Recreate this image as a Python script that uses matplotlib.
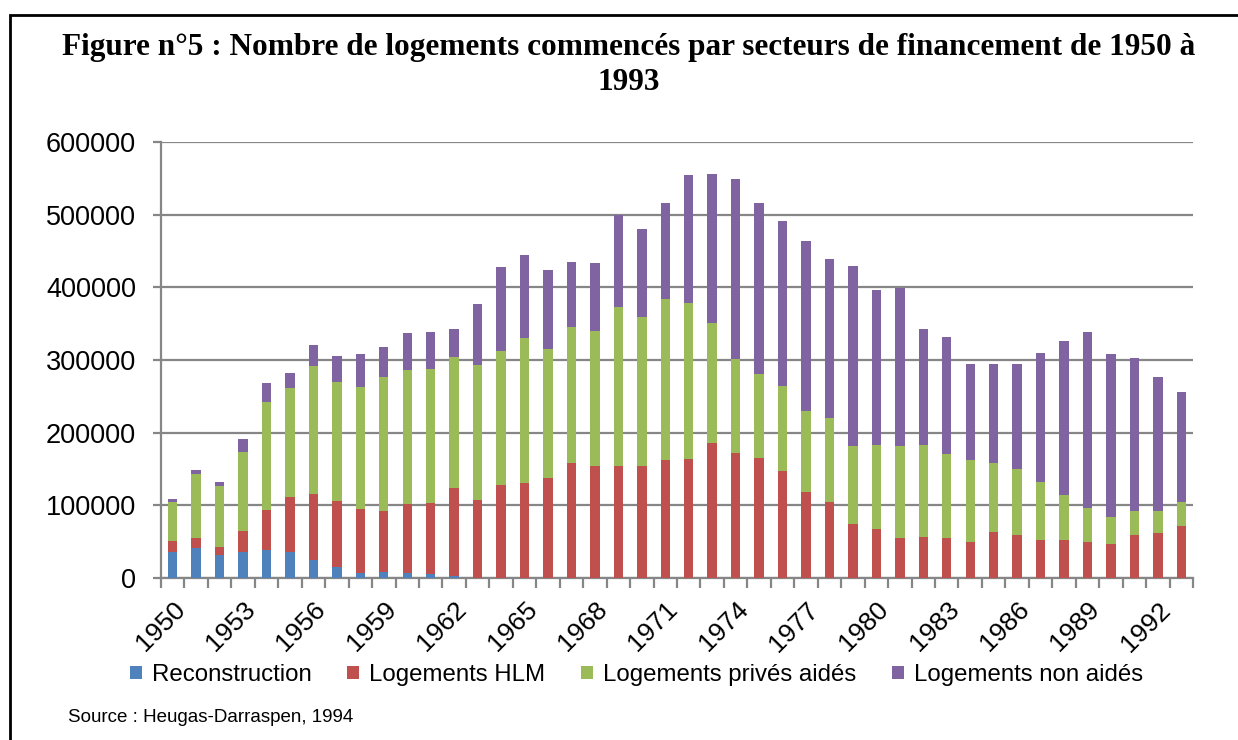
import numpy as np
import matplotlib.pyplot as plt
from matplotlib.patches import Rectangle

# Données (nombre de logements commencés)
annees = list(range(1950, 1994))

reconstruction = [36000, 41700, 31700, 35300, 38100, 35300, 25200, 14700, 7300, 8700,
                  6900, 5000, 3200, 0, 0, 0, 0, 0, 0, 0,
                  0, 0, 0, 0, 0, 0, 0, 0, 0, 0,
                  0, 0, 0, 0, 0, 0, 0, 0, 0, 0,
                  0, 0, 0, 0]

hlm = [14500, 12900, 11400, 29800, 55900, 76200, 89900, 90800, 87700, 84000,
       94900, 98200, 120700, 107300, 128000, 131200, 137600, 158300, 154100, 154600,
       154600, 162800, 164200, 186200, 172000, 165100, 147200, 118300, 104100, 74300,
       67400, 55000, 56400, 55000, 49500, 63800, 59200, 52800, 52800, 49100,
       46800, 59200, 61900, 72000]

prives_aides = [54100, 88100, 83000, 107800, 148700, 150000, 176200, 164700, 167400, 183400,
                184400, 184000, 179800, 186300, 184800, 198600, 177100, 186700, 185300, 217900,
                204100, 220700, 214700, 164700, 128900, 115200, 116600, 111100, 116100, 106900,
                116100, 126200, 127100, 115600, 112900, 94000, 90300, 78900, 61000, 47200,
                37600, 33500, 30800, 32600]

non_aides = [3700, 6400, 6000, 17900, 25600, 20200, 29300, 34800, 46300, 41300,
             51000, 51300, 39400, 83500, 115600, 114700, 109600, 89900, 94100, 126600,
             122000, 132600, 176100, 204600, 247700, 235300, 227900, 234800, 219200, 248200,
             212800, 217900, 159600, 161100, 131600, 137200, 145500, 177900, 212300, 242200,
             224300, 209600, 183400, 150900]

series = [
    ("Reconstruction", reconstruction, "#4F81BD"),
    ("Logements HLM", hlm, "#C0504D"),
    ("Logements privés aidés", prives_aides, "#9BBB59"),
    ("Logements non aidés", non_aides, "#8064A2"),
]

plt.rcParams['font.family'] = ['Liberation Sans', 'DejaVu Sans']

fig = plt.figure(figsize=(12.38, 7.4), dpi=100)
ax = fig.add_axes([0.1300, 0.2189, 0.8337, 0.5892])

x = np.arange(len(annees))
bas = np.zeros(len(annees))
for nom, valeurs, couleur in series:
    v = np.array(valeurs, dtype=float)
    ax.bar(x, v, bottom=bas, width=0.4, color=couleur, label=nom, zorder=3)
    bas += v

# Axes façon Excel
ax.set_xlim(-0.5, len(annees) - 0.5)
ax.set_ylim(0, 600000)
ax.set_yticks(range(0, 600001, 100000))
ax.yaxis.grid(True, color='#868686', linewidth=1.6, zorder=0)
ax.tick_params(axis='y', length=6, width=1.6, color='#868686', labelsize=19.5, pad=12)

ax.set_xticks(x[::3])
ax.set_xticklabels([str(a) for a in annees[::3]], rotation=45, ha='right',
                   rotation_mode='anchor', fontsize=19)
ax.set_xticks(np.arange(-0.5, len(annees), 1), minor=True)
ax.tick_params(axis='x', which='major', length=0, pad=14)
ax.tick_params(axis='x', which='minor', length=7, width=1.6, color='#868686')

for s in ['top', 'right']:
    ax.spines[s].set_visible(False)
for s in ['left', 'bottom']:
    ax.spines[s].set_color('#868686')
    ax.spines[s].set_linewidth(1.6)

# Titre
fig.text(0.508, 0.912, "Figure n°5 : Nombre de logements commencés par secteurs de financement de 1950 à\n1993",
         ha='center', va='center', fontsize=22.5, fontweight='bold', family='Liberation Serif',
         linespacing=1.3)

# Légende
fig.legend(loc='center', bbox_to_anchor=(0.514, 0.088), ncol=4, frameon=False,
           fontsize=17.3, handlelength=0.5, handleheight=0.5, handletextpad=0.4,
           columnspacing=1.5)

fig.text(68 / 1238, 1 - 718 / 740, "Source : Heugas-Darraspen, 1994", fontsize=13.5, va='center')

# Cadre noir
fig.patches.append(Rectangle((10 / 1238, -0.02), 1.1, 1 - 15 / 740 + 0.02,
                             transform=fig.transFigure, fill=False, edgecolor='black',
                             linewidth=2))

fig.savefig('out.png', dpi=100)
